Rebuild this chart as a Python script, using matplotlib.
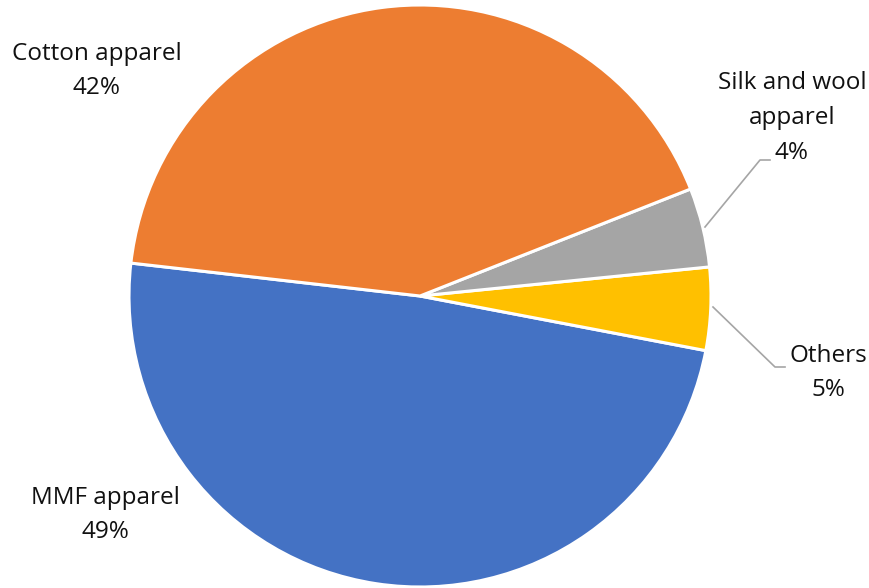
import numpy as np
import matplotlib.pyplot as plt

# apparel share by fibre type
labels = ['MMF apparel', 'Others', 'Silk and wool\napparel', 'Cotton apparel']
shares = [48.8, 4.6, 4.4, 42.2]
colors = ['#4472C4', '#FFC000', '#A5A5A5', '#ED7D31']

plt.rcParams['font.family'] = ['Open Sans', 'DejaVu Sans']

fig = plt.figure(figsize=(8.7, 5.88), dpi=100)
ax = fig.add_axes([0, 0, 1, 1])

# centre and radius in pixel units (y up)
cx, cy, r = 420, 292, 291
wedges, _ = ax.pie(shares, colors=colors, startangle=173.5, counterclock=True,
                   radius=r, center=(cx, cy),
                   wedgeprops=dict(edgecolor='white', linewidth=2.2))
ax.set_xlim(0, 870)
ax.set_ylim(0, 588)
ax.set_aspect('equal')
ax.axis('off')

# label positions (text centre) and optional leader lines
label_pos = [(105, 73), (828, 215), (792, 470), (97, 517)]
leaders = [None,
           [(713, 281), (775, 221), (785, 221)],
           [(705, 361), (760, 428), (770, 428)],
           None]

for lab, val, pos, lead in zip(labels, shares, label_pos, leaders):
    txt = f'{lab}\n{round(val):.0f}%'
    ax.text(pos[0], pos[1], txt, ha='center', va='center', fontsize=17.5,
            color='#111111', linespacing=1.6)
    if lead:
        xs, ys = zip(*lead)
        ax.plot(xs, ys, color='#A5A5A5', lw=1.2)

fig.savefig('out.png', dpi=100)
